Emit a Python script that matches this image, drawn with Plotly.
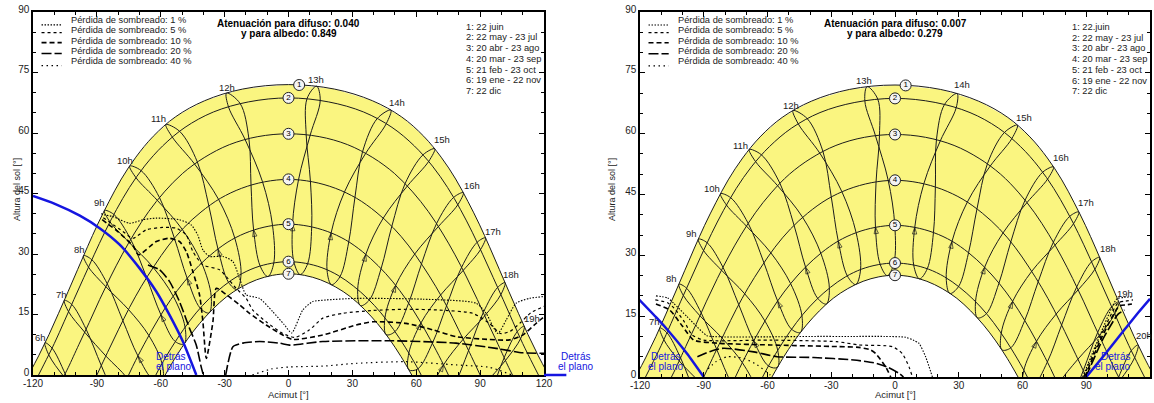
import plotly.graph_objects as go

# ---------------- sun path: date curves (azimuth deg, sun height deg) ----------------
D1_az = [-122.1,-117.2,-112.5,-108.0,-103.5,-99.0,-94.4,-89.6,-84.3,-78.5,-71.7,-63.5,-53.1,-39.4,-21.5,0.0,21.5,39.4,53.1,63.5,71.7,78.5,84.3,89.6,94.4,99.0,103.5,108.0,112.5,117.2,122.1]
D1_alt = [0.0,4.9,10.0,15.3,20.7,26.2,31.8,37.4,43.0,48.6,54.0,59.2,64.0,68.0,70.9,72.0,70.9,68.0,64.0,59.2,54.0,48.6,43.0,37.4,31.8,26.2,20.7,15.3,10.0,4.9,0.0]
D2_az = [-117.4,-114.8,-110.0,-105.4,-100.8,-96.1,-91.3,-86.3,-80.8,-74.7,-67.6,-59.1,-48.6,-35.3,-18.9,0.0,18.9,35.3,48.6,59.1,67.6,74.7,80.8,86.3,91.3,96.1,100.8,105.4,110.0,114.8,117.4]
D2_alt = [0.0,2.7,7.8,13.2,18.7,24.2,29.8,35.4,41.0,46.5,51.8,56.8,61.4,65.2,67.7,68.7,67.7,65.2,61.4,56.8,51.8,46.5,41.0,35.4,29.8,24.2,18.7,13.2,7.8,2.7,0.0]
D3_az = [-105.2,-103.4,-98.5,-93.6,-88.7,-83.6,-78.2,-72.3,-65.7,-58.3,-49.7,-39.6,-27.8,-14.4,0.0,14.4,27.8,39.6,49.7,58.3,65.7,72.3,78.2,83.6,88.7,93.6,98.5,103.4,105.2]
D3_alt = [0.0,1.9,7.5,13.0,18.7,24.3,29.8,35.2,40.5,45.4,50.0,53.9,57.1,59.1,59.8,59.1,57.1,53.9,50.0,45.4,40.5,35.2,29.8,24.3,18.7,13.0,7.5,1.9,0.0]
D4_az = [-90.0,-85.0,-79.9,-74.7,-69.1,-63.0,-56.5,-49.2,-41.1,-32.0,-22.0,-11.2,0.0,11.2,22.0,32.0,41.1,49.2,56.5,63.0,69.1,74.7,79.9,85.0,90.0]
D4_alt = [0.0,5.6,11.2,16.7,22.0,27.1,32.0,36.5,40.4,43.8,46.3,47.9,48.5,47.9,46.3,43.8,40.4,36.5,32.0,27.1,22.0,16.7,11.2,5.6,0.0]
D5_az = [-75.1,-71.8,-66.6,-61.1,-55.3,-49.0,-42.1,-34.7,-26.8,-18.2,-9.2,0.0,9.2,18.2,26.8,34.7,42.1,49.0,55.3,61.1,66.6,71.8,75.1]
D5_alt = [0.0,3.6,8.8,13.9,18.7,23.1,27.1,30.6,33.5,35.6,36.9,37.4,36.9,35.6,33.5,30.6,27.1,23.1,18.7,13.9,8.8,3.6,0.0]
D6_az = [-62.3,-60.1,-54.8,-49.3,-43.4,-37.1,-30.4,-23.3,-15.7,-7.9,0.0,7.9,15.7,23.3,30.4,37.1,43.4,49.3,54.8,60.1,62.3]
D6_alt = [0.0,2.2,6.9,11.3,15.4,19.0,22.1,24.7,26.6,27.7,28.1,27.7,26.6,24.7,22.1,19.0,15.4,11.3,6.9,2.2,0.0]
D7_az = [-57.9,-52.8,-47.4,-41.7,-35.6,-29.1,-22.2,-15.0,-7.6,0.0,7.6,15.0,22.2,29.1,35.6,41.7,47.4,52.8,57.9]
D7_alt = [0.0,4.6,8.9,12.8,16.3,19.4,21.8,23.6,24.7,25.1,24.7,23.6,21.8,19.4,16.3,12.8,8.9,4.6,0.0]

DATE_LEGEND_L = ["1: 22 juin", "2: 22 may - 23 jul", "3: 20 abr - 23 ago", "4: 20 mar - 23 sep",
                 "5: 21 feb - 23 oct", "6: 19 ene - 22 nov", "7: 22 dic"]
DATE_LEGEND_R = ["1: 22.juin", "2: 22 may - 23 jul", "3: 20 abr - 23 ago", "4: 20 mar - 23 sep",
                 "5: 21 feb - 23 oct", "6: 19 ene - 22 nov", "7: 22 dic"]
MARK_NUM = ["1", "2", "3", "4", "5", "6", "7"]
MARK_AZ = [5.0, 0.0, 0.0, 0.0, 0.0, 0.0, 0.0]
MARK_ALT = [71.9, 68.7, 59.8, 48.5, 37.4, 28.1, 25.1]

# ------------- hour lines (loops through the 7 date curves), left diagram -------------
L06 = [(-114.4,8.0),(-112.6,5.0),(-105.5,-0.4),(-95.4,-6.1),(-85.6,-11.9),(-78.4,-18.1),(-77.7,-22.2),(-82.2,-22.6),(-90.4,-17.4),(-97.9,-8.9),(-104.9,0.3),(-111.1,6.7)]
L07 = [(-105.3,18.5),(-103.3,15.7),(-95.7,10.6),(-85.4,4.5),(-75.8,-0.8),(-69.2,-7.3),(-68.7,-11.5),(-73.0,-11.7),(-80.6,-6.2),(-87.9,2.3),(-95.1,11.4),(-101.8,17.5)]
L08 = [(-96.3,29.6),(-94.0,26.8),(-85.8,21.9),(-75.1,16.2),(-65.6,9.8),(-59.4,2.8),(-59.3,-1.4),(-63.5,-1.2),(-70.7,4.7),(-77.8,13.5),(-85.1,22.6),(-92.4,28.6)]
L09 = [(-86.5,40.8),(-83.9,38.0),(-74.9,32.9),(-63.6,26.7),(-54.1,19.5),(-48.6,11.9),(-49.0,7.7),(-53.2,8.3),(-59.9,14.9),(-66.6,24.1),(-74.1,33.6),(-82.0,39.8)]
L10 = [(-74.6,51.8),(-71.6,48.9),(-61.6,43.3),(-49.9,36.1),(-40.8,27.8),(-36.3,19.5),(-37.3,15.4),(-41.5,16.6),(-47.6,24.0),(-53.6,33.9),(-60.6,44.0),(-69.3,50.7)]
L11 = [(-57.6,62.1),(-54.6,59.0),(-44.1,52.3),(-32.8,43.5),(-25.2,33.9),(-22.3,25.0),(-24.2,21.2),(-28.2,23.0),(-33.1,31.2),(-37.4,41.9),(-42.8,52.8),(-51.1,60.4)]
L12 = [(-29.1,69.9),(-28.2,66.5),(-20.4,58.4),(-12.2,47.9),(-7.5,37.1),(-6.9,27.8),(-9.7,24.4),(-13.3,27.0),(-16.4,36.0),(-17.6,47.1),(-18.6,58.6),(-22.7,67.3)]
L13 = [(13.2,71.6),(8.7,68.5),(8.3,59.6),(10.3,48.0),(10.9,36.8),(9.0,27.6),(5.5,24.9),(2.5,28.1),(1.9,37.4),(4.7,48.4),(10.2,59.5),(14.9,68.1)]
L14 = [(48.1,65.7),(41.7,63.6),(34.8,55.4),(31.2,44.0),(28.3,33.0),(24.2,24.4),(20.2,22.4),(18.1,26.0),(20.0,35.2),(26.3,45.4),(36.3,55.0),(45.9,62.3)]
L15 = [(68.7,56.1),(63.2,54.6),(54.8,47.5),(48.5,36.8),(43.5,26.4),(38.0,18.6),(33.8,17.2),(32.5,21.2),(36.3,29.9),(44.5,38.9),(55.9,46.9),(65.9,53.0)]
L16 = [(82.1,45.2),(77.5,44.0),(69.5,37.5),(62.5,27.6),(56.4,17.8),(50.1,10.8),(45.9,10.0),(45.3,14.2),(50.3,22.2),(59.3,30.0),(70.4,36.8),(79.5,42.2)]
L17 = [(92.5,34.0),(88.6,32.9),(81.3,26.7),(74.2,17.1),(67.6,7.9),(60.7,1.5),(56.5,1.3),(56.5,5.4),(62.2,12.9),(71.4,19.8),(82.0,25.9),(90.2,31.1)]
L18 = [(101.7,22.9),(98.2,21.7),(91.5,15.5),(84.6,6.1),(77.7,-2.8),(70.4,-8.7),(66.2,-8.6),(66.5,-4.4),(72.8,2.5),(82.1,8.9),(92.2,14.7),(99.7,19.9)]
L19 = [(110.7,12.1),(107.5,10.8),(101.3,4.3),(94.6,-5.1),(87.4,-14.0),(79.7,-19.6),(75.2,-19.2),(75.9,-15.1),(82.6,-8.5),(92.1,-2.3),(101.9,3.6),(109.0,9.0)]
LEFT_LOOPS = [L06, L07, L08, L09, L10, L11, L12, L13, L14, L15, L16, L17, L18, L19]
LEFT_HOUR_TXT = ["6h","7h","8h","9h","10h","11h","12h","13h","14h","15h","16h","17h","18h","19h"]
LEFT_HOUR_AZ = [-116.4,-106.6,-98.0,-88.7,-77.0,-61.0,-29.0,13.0,51.0,72.0,86.0,96.0,104.7,114.5]
LEFT_HOUR_ALT = [9.4,20.0,31.0,42.7,53.1,63.5,71.4,73.2,67.5,58.3,47.1,35.5,24.8,14.1]

# ------------- hour lines, right diagram -------------
R07 = [(-110.7,12.1),(-108.8,9.2),(-101.6,4.0),(-91.4,-1.6),(-81.7,-7.4),(-74.7,-13.7),(-74.2,-17.9),(-78.5,-18.2),(-86.5,-12.9),(-93.9,-4.4),(-100.9,4.7),(-107.3,10.9)]
R08 = [(-101.7,22.9),(-99.6,20.1),(-91.8,15.1),(-81.4,9.6),(-71.8,3.5),(-65.3,-3.2),(-65.1,-7.3),(-69.3,-7.4),(-76.7,-1.8),(-83.9,6.8),(-91.2,15.8),(-98.1,21.9)]
R09 = [(-92.5,34.0),(-90.1,31.2),(-81.6,26.3),(-70.7,20.5),(-61.2,13.8),(-55.2,6.6),(-55.3,2.4),(-59.5,2.7),(-66.5,8.9),(-73.5,17.8),(-80.9,27.0),(-88.4,33.1)]
R10 = [(-82.1,45.2),(-79.3,42.4),(-69.9,37.2),(-58.4,30.6),(-49.1,23.0),(-43.8,15.1),(-44.5,11.0),(-48.7,11.8),(-55.2,18.7),(-61.7,28.2),(-69.1,37.9),(-77.3,44.2)]
R11 = [(-68.6,56.1),(-65.6,53.1),(-55.3,47.2),(-43.5,39.4),(-34.9,30.5),(-30.9,22.0),(-32.3,18.0),(-36.4,19.4),(-42.1,27.1),(-47.5,37.4),(-54.2,47.8),(-62.9,54.8)]
R12 = [(-48.0,65.7),(-45.5,62.4),(-35.4,55.2),(-25.0,45.7),(-18.3,35.6),(-16.2,26.5),(-18.5,22.8),(-22.4,24.9),(-26.7,33.5),(-30.0,44.4),(-33.9,55.6),(-41.3,63.7)]
R13 = [(-13.1,71.6),(-14.2,68.1),(-9.2,59.5),(-3.2,48.5),(-0.1,37.4),(-0.5,28.1),(-3.6,25.0),(-7.0,27.8),(-9.2,37.0),(-8.9,48.2),(-7.3,59.6),(-8.1,68.5)]
R14 = [(29.2,69.9),(23.3,67.2),(19.5,58.5),(19.0,46.9),(18.1,35.6),(15.2,26.7),(11.5,24.2),(8.8,27.6),(9.3,36.9),(13.6,47.7),(21.3,58.2),(28.8,66.4)]
R15 = [(57.6,62.1),(51.5,60.3),(43.5,52.6),(38.6,41.5),(34.6,30.6),(29.9,22.3),(25.8,20.6),(24.1,24.4),(26.8,33.4),(34.0,43.1),(44.8,52.0),(55.0,58.8)]
R16 = [(74.6,51.8),(69.5,50.5),(61.2,43.6),(54.5,33.3),(48.9,23.1),(43.0,15.6),(38.8,14.6),(37.9,18.6),(42.2,27.1),(50.8,35.5),(62.1,43.0),(71.8,48.8)]
R17 = [(86.5,40.7),(82.2,39.6),(74.5,33.2),(67.4,23.5),(61.0,13.9),(54.5,7.2),(50.3,6.7),(50.0,10.8),(55.3,18.6),(64.4,26.1),(75.3,32.5),(84.0,37.8)]
R18 = [(96.3,29.5),(92.5,28.4),(85.5,22.2),(78.4,12.8),(71.7,3.7),(64.7,-2.5),(60.5,-2.6),(60.6,1.6),(66.6,8.8),(75.8,15.5),(86.2,21.5),(94.1,26.6)]
R19 = [(105.3,18.5),(101.9,17.3),(95.4,11.0),(88.6,1.6),(81.6,-7.3),(74.1,-13.0),(69.8,-12.7),(70.3,-8.6),(76.8,-1.8),(86.1,4.4),(96.1,10.2),(103.4,15.5)]
R20 = [(114.4,7.9),(111.2,6.5),(105.2,-0.1),(98.6,-9.6),(91.4,-18.5),(83.4,-24.0),(78.8,-23.5),(79.6,-19.4),(86.5,-13.0),(96.1,-6.8),(105.9,-0.8),(112.8,4.8)]
RIGHT_LOOPS = [R07, R08, R09, R10, R11, R12, R13, R14, R15, R16, R17, R18, R19, R20]
RIGHT_HOUR_TXT = ["7h","8h","9h","10h","11h","12h","13h","14h","15h","16h","17h","18h","19h","20h"]
RIGHT_HOUR_AZ = [-113.4,-105.0,-96.0,-86.0,-72.5,-49.0,-14.6,31.5,60.7,78.0,90.0,100.0,108.0,117.0]
RIGHT_HOUR_ALT = [13.6,24.4,35.5,46.6,57.0,67.0,73.2,72.0,64.1,54.2,43.0,31.8,20.7,10.3]

# ------------- iso-shading loss curves -------------
LOSS_NAMES = ["Pérdida de sombreado: 1 %", "Pérdida de sombreado: 5 %", "Pérdida de sombreado: 10 %",
              "Pérdida de sombreado: 20 %", "Pérdida de sombreado: 40 %"]
L_S01 = [(-88.0,40.0),(-86.4,39.7),(-82.5,39.3),(-74.6,37.6),(-68.4,38.5),(-62.1,38.9),(-51.2,38.5),(-45.7,37.2),(-42.6,34.7),(-40.2,31.0),(-37.1,29.4),(-30.8,29.4),(-26.1,28.1),(-23.0,24.0),(-19.9,19.9),(-13.6,19.0),(-7.4,15.7),(-2.0,12.5),(1.5,10.4),(6.7,16.1),(11.4,18.2),(17.7,18.6),(31.8,19.0),(63.0,18.8),(88.1,17.8),(92.8,15.3),(98.3,10.3),(102.2,13.6),(106.9,17.8),(113.1,19.0),(121.0,19.5)]
L_S05 = [(-87.0,39.0),(-77.8,35.6),(-73.1,33.9),(-66.8,36.0),(-59.0,36.6),(-52.7,36.4),(-48.0,34.7),(-44.9,30.6),(-40.2,27.3),(-32.4,26.1),(-29.2,24.4),(-24.6,21.5),(-19.9,19.0),(-16.8,16.1),(-10.5,13.2),(-2.7,10.3),(3.0,9.3),(9.9,11.2),(16.1,14.1),(25.5,15.3),(39.6,16.0),(55.2,16.3),(70.9,16.1),(86.5,15.3),(94.4,12.8),(99.5,10.3),(104.0,10.8),(109.0,13.0),(114.0,15.5),(121.0,17.2)]
L_S10 = [(-87.5,38.5),(-80.0,35.5),(-73.0,32.0),(-70.4,29.8),(-62.1,33.1),(-55.9,33.9),(-51.2,33.1),(-48.0,30.6),(-44.9,25.6),(-41.8,19.9),(-40.2,13.2),(-38.6,4.1),(-35.5,13.2),(-33.9,21.5),(-29.2,19.9),(-23.0,17.4),(-18.3,15.3),(-10.5,12.4),(-2.7,9.9),(2.0,8.8),(16.1,9.9),(31.8,12.4),(39.6,13.2),(55.2,12.8),(67.8,11.2),(78.7,9.5),(94.4,8.8),(103.8,8.7),(110.0,9.9),(116.3,12.8),(121.0,14.9)]
L_S20 = [(-66.0,27.3),(-60.6,26.1),(-55.9,23.2),(-51.2,18.2),(-46.5,11.6),(-43.3,7.4),(-41.0,2.0),(-40.0,0.0), None,
         (-29.5,0.0),(-26.1,7.0),(-21.4,7.9),(-13.6,8.3),(-4.2,7.9),(0.5,7.4),(16.1,8.3),(47.4,8.5),(78.7,7.9),(97.5,6.6),(110.0,5.5),(121.0,5.4)]
L_S40 = [(-17.0,0.0),(-8.0,1.5),(0.5,2.0),(16.1,2.2),(31.8,2.9),(55.2,3.3),(78.7,2.5),(94.4,1.9),(105.0,0.0)]
R_S01 = [(-112.5,20.0),(-107.0,19.5),(-104.2,18.2),(-97.9,14.9),(-93.2,12.4),(-88.5,10.2),(-82.0,9.9),(-60.0,9.9),(-40.0,10.0),(-20.0,10.0),(-5.0,10.0),(5.0,9.8),(9.0,9.0),(11.3,8.3),(14.4,5.0),(17.6,0.0), None,
         (88.3,0.0),(96.2,10.0),(104.5,19.3),(108.0,19.6),(112.0,19.8)]
R_S05 = [(-112.8,19.0),(-107.0,18.3),(-104.0,17.0),(-99.0,13.5),(-95.5,10.4),(-90.0,9.1),(-58.7,9.1),(-27.3,8.7),(-17.0,7.9),(-1.3,7.5),(3.4,5.8),(6.6,2.5),(8.2,0.0), None,
         (88.8,0.0),(96.8,10.0),(105.0,18.3),(108.5,18.7),(112.0,19.0)]
R_S10 = [(-112.5,18.0),(-106.0,16.5),(-100.0,12.5),(-94.7,9.1),(-82.2,8.3),(-58.7,7.9),(-27.3,7.5),(-17.0,7.3),(-11.6,6.7),(-9.1,5.8),(-4.4,2.5),(-2.0,0.0), None,
         (89.3,0.0),(97.5,10.0),(105.5,17.5),(109.0,17.8),(111.5,18.0)]
R_S20 = [(-93.0,5.0),(-86.0,6.5),(-80.6,7.1),(-66.5,6.2),(-55.5,5.0),(-38.3,4.8),(-19.4,4.2),(-10.0,3.5),(-3.8,2.5),(1.9,0.9),(4.0,0.0), None,
         (89.8,0.0),(98.0,9.5),(105.0,15.5),(108.0,16.5)]
R_S40 = [(-88.0,2.0),(-84.2,3.8),(-79.0,5.0),(-71.2,4.6),(-64.9,3.0),(-58.7,0.5),(-57.5,0.0)]

# ------------- plane horizon (blue) -------------
L_BLUE_AZ = [-120.0,-110.0,-98.0,-88.7,-79.3,-70.0,-62.1,-55.9,-49.6,-43.3]
L_BLUE_ALT = [44.4,42.5,39.5,36.4,32.3,26.5,20.7,14.9,8.3,0.0]
R_BLUE_AZ = [-120.6,-112.0,-105.7,-97.9,-90.0, None, 90.0,99.1,108.5,114.8,120.0]
R_BLUE_ALT = [19.2,14.5,10.8,5.8,0.0, None, 0.0,5.8,12.0,16.1,19.3]
BLUE_OUT_AZ = [120.0, 130.5]

TITLE_L = ["Atenuación para difuso: 0.040", "y para albedo: 0.849"]
TITLE_R = ["Atenuación para difuso: 0.007", "y para albedo: 0.279"]

X_TICKS = [-120, -90, -60, -30, 0, 30, 60, 90, 120]
X_TICKTEXT = ["-120", "-90", "-60", "-30", "0", "30", "60", "90", "120"]
Y_TICKS = [0, 15, 30, 45, 60, 75, 90]

# ---------------- style ----------------
FONT = "Liberation Sans, Arial, sans-serif"
YELLOW = "rgb(250,245,128)"
INK = "#1c1c1c"
BLUE = "#1515e0"
LOSS_DASH = ["1.5px,1.5px", "3px,3px", "5px,3px", "10px,3px", "1.5px,3.5px"]
LOSS_WIDTH = [1.1, 1.2, 1.6, 1.6, 1.2]
LOSS_SAMPLE_ALT = [86.8, 84.9, 82.4, 79.7, 76.7]
LOSS_TEXT_ALT = [88.1, 85.6, 82.9, 80.4, 77.9]
DATE_TEXT_ALT = [86.4, 83.7, 81.1, 78.4, 75.7, 73.1, 70.5]

W, H = 1154, 403
DOM_XL = [33 / W, 544 / W]
DOM_XR = [640 / W, 1150 / W]
DOM_YL = [28 / H, 391 / H]
DOM_YR = [26 / H, 391 / H]

fig = go.Figure()
annotations = []
shapes = []


def split(pts):
    xs, ys = [], []
    for p in pts:
        if p is None:
            xs.append(None); ys.append(None)
        else:
            xs.append(p[0]); ys.append(p[1])
    return xs, ys


def az_to_paper(dom, az):
    return dom[0] + (az + 120) / 240 * (dom[1] - dom[0])


def panel(xa, ya, dom_x, loops, hour_txt, hour_az, hour_alt, shading, blue_az, blue_alt, title,
          date_legend, detras):
    fig.add_trace(go.Scatter(x=D1_az + D7_az[::-1], y=D1_alt + D7_alt[::-1], xaxis=xa, yaxis=ya,
                             mode="lines", fill="toself", fillcolor=YELLOW, line=dict(width=0),
                             hoverinfo="skip"))
    for daz, dalt in [(D1_az, D1_alt), (D2_az, D2_alt), (D3_az, D3_alt), (D4_az, D4_alt),
                      (D5_az, D5_alt), (D6_az, D6_alt), (D7_az, D7_alt)]:
        fig.add_trace(go.Scatter(x=daz, y=dalt, xaxis=xa, yaxis=ya, mode="lines",
                                 line=dict(color=INK, width=1, shape="spline"), hoverinfo="skip"))
    for loop in loops:
        xs, ys = split(loop + [loop[0]])
        fig.add_trace(go.Scatter(x=xs, y=ys, xaxis=xa, yaxis=ya, mode="lines",
                                 line=dict(color=INK, width=1, shape="spline"), hoverinfo="skip"))
        fig.add_trace(go.Scatter(x=[loop[7][0], loop[8][0]], y=[loop[7][1], loop[8][1]],
                                 xaxis=xa, yaxis=ya, mode="markers",
                                 marker=dict(symbol="arrow-open", size=[0, 7], angleref="previous",
                                             color=INK, line=dict(color=INK, width=1)),
                                 hoverinfo="skip"))
    for i, curve in enumerate(shading):
        xs, ys = split(curve)
        fig.add_trace(go.Scatter(x=xs, y=ys, xaxis=xa, yaxis=ya, mode="lines",
                                 line=dict(color="black", width=LOSS_WIDTH[i], dash=LOSS_DASH[i],
                                           shape="spline", smoothing=0.6), hoverinfo="skip"))
    fig.add_trace(go.Scatter(x=blue_az, y=blue_alt, xaxis=xa, yaxis=ya, mode="lines",
                             line=dict(color=BLUE, width=2.5, shape="spline", smoothing=0.6),
                             hoverinfo="skip"))
    fig.add_trace(go.Scatter(x=MARK_AZ, y=MARK_ALT, xaxis=xa, yaxis=ya, mode="markers+text",
                             text=MARK_NUM, textposition="middle center",
                             textfont=dict(family=FONT, size=8, color="black"),
                             marker=dict(size=11, color="#f4f4f4", line=dict(color="#222", width=1)),
                             hoverinfo="skip"))
    for t, x, y in zip(hour_txt, hour_az, hour_alt):
        annotations.append(dict(text=t, x=x, y=y, xref=xa, yref=ya, showarrow=False,
                                font=dict(family=FONT, size=9.5, color="#222")))
    for i, name in enumerate(LOSS_NAMES):
        shapes.append(dict(type="line", xref=xa, yref=ya, x0=-116.0, x1=-106.5,
                           y0=LOSS_SAMPLE_ALT[i], y1=LOSS_SAMPLE_ALT[i],
                           line=dict(color="black", width=LOSS_WIDTH[i], dash=LOSS_DASH[i])))
        annotations.append(dict(text=name, x=-103.0, y=LOSS_TEXT_ALT[i], xref=xa, yref=ya,
                                xanchor="left", showarrow=False,
                                font=dict(family=FONT, size=9.3, color="#222")))
    for k, line in enumerate(title):
        annotations.append(dict(text="<b>" + line + "</b>", x=0, y=[87.1, 84.6][k], xref=xa, yref=ya,
                                showarrow=False, font=dict(family=FONT, size=10, color="black")))
    for k, line in enumerate(date_legend):
        annotations.append(dict(text=line, x=82.5, y=DATE_TEXT_ALT[k], xref=xa, yref=ya,
                                xanchor="left", showarrow=False,
                                font=dict(family=FONT, size=9.3, color="#222")))
    for (dx, dy) in detras:
        xp = az_to_paper(dom_x, dx)
        annotations.append(dict(text="Detrás", x=xp, y=dy + 1.3, xref="paper", yref=ya, showarrow=False,
                                font=dict(family=FONT, size=10, color=BLUE)))
        annotations.append(dict(text="el plano", x=xp, y=dy - 1.2, xref="paper", yref=ya, showarrow=False,
                                font=dict(family=FONT, size=10, color=BLUE)))
    annotations.append(dict(text="Acimut [°]", x=0, y=(H - 394) / H, xref=xa, yref="paper",
                            yanchor="middle", showarrow=False,
                            font=dict(family=FONT, size=9.5, color="#222")))


panel("x", "y", DOM_XL, LEFT_LOOPS, LEFT_HOUR_TXT, LEFT_HOUR_AZ, LEFT_HOUR_ALT,
      [L_S01, L_S05, L_S10, L_S20, L_S40], L_BLUE_AZ, L_BLUE_ALT, TITLE_L, DATE_LEGEND_L,
      [(-63.0, 3.2), (135.0, 3.2)])
panel("x2", "y2", DOM_XR, RIGHT_LOOPS, RIGHT_HOUR_TXT, RIGHT_HOUR_AZ, RIGHT_HOUR_ALT,
      [R_S01, R_S05, R_S10, R_S20, R_S40], R_BLUE_AZ, R_BLUE_ALT, TITLE_R, DATE_LEGEND_R,
      [(-108.0, 3.7), (111.5, 3.7)])

shapes.append(dict(type="line", xref="paper", yref="paper",
                   x0=az_to_paper(DOM_XL, BLUE_OUT_AZ[0]), x1=az_to_paper(DOM_XL, BLUE_OUT_AZ[1]),
                   y0=DOM_YL[0], y1=DOM_YL[0], line=dict(color=BLUE, width=2.5)))

for xp in [10 / W, 612 / W]:
    annotations.append(dict(text="Altura del sol [°]", x=xp, y=(H - 190) / H, xref="paper", yref="paper",
                            textangle=-90, showarrow=False, font=dict(family=FONT, size=9, color="#222")))


def xaxis(dom, anchor):
    return dict(domain=dom, anchor=anchor, range=[-120, 120], tickmode="array", tickvals=X_TICKS,
                ticktext=X_TICKTEXT, showline=True, linecolor="black", linewidth=1.5, mirror="ticks",
                ticks="inside", ticklen=5, tickcolor="black", showgrid=False, zeroline=False,
                automargin=False, ticklabelstandoff=-2,
                tickfont=dict(family=FONT, size=10, color="#222"),
                minor=dict(ticks="inside", ticklen=3, tickcolor="black", tick0=0, dtick=10, showgrid=False))


def yaxis(dom, anchor):
    return dict(domain=dom, anchor=anchor, range=[0, 90], tickmode="array", tickvals=Y_TICKS,
                showline=True, linecolor="black", linewidth=1.5, mirror="ticks",
                ticks="inside", ticklen=5, tickcolor="black", showgrid=False, zeroline=False,
                automargin=False, ticklabelshift=-3,
                tickfont=dict(family=FONT, size=10, color="#222"),
                minor=dict(ticks="inside", ticklen=3, tickcolor="black", tick0=0, dtick=5, showgrid=False))


fig.update_layout(
    width=W, height=H, margin=dict(l=0, r=0, t=0, b=0, autoexpand=False), showlegend=False,
    plot_bgcolor="white", paper_bgcolor="white",
    xaxis=xaxis(DOM_XL, "y"), yaxis=yaxis(DOM_YL, "x"),
    xaxis2=xaxis(DOM_XR, "y2"), yaxis2=yaxis(DOM_YR, "x2"),
    annotations=annotations, shapes=shapes,
)
fig.write_html("out.html", config={"displayModeBar": False},
               post_script="document.body.style.margin='0px';")
